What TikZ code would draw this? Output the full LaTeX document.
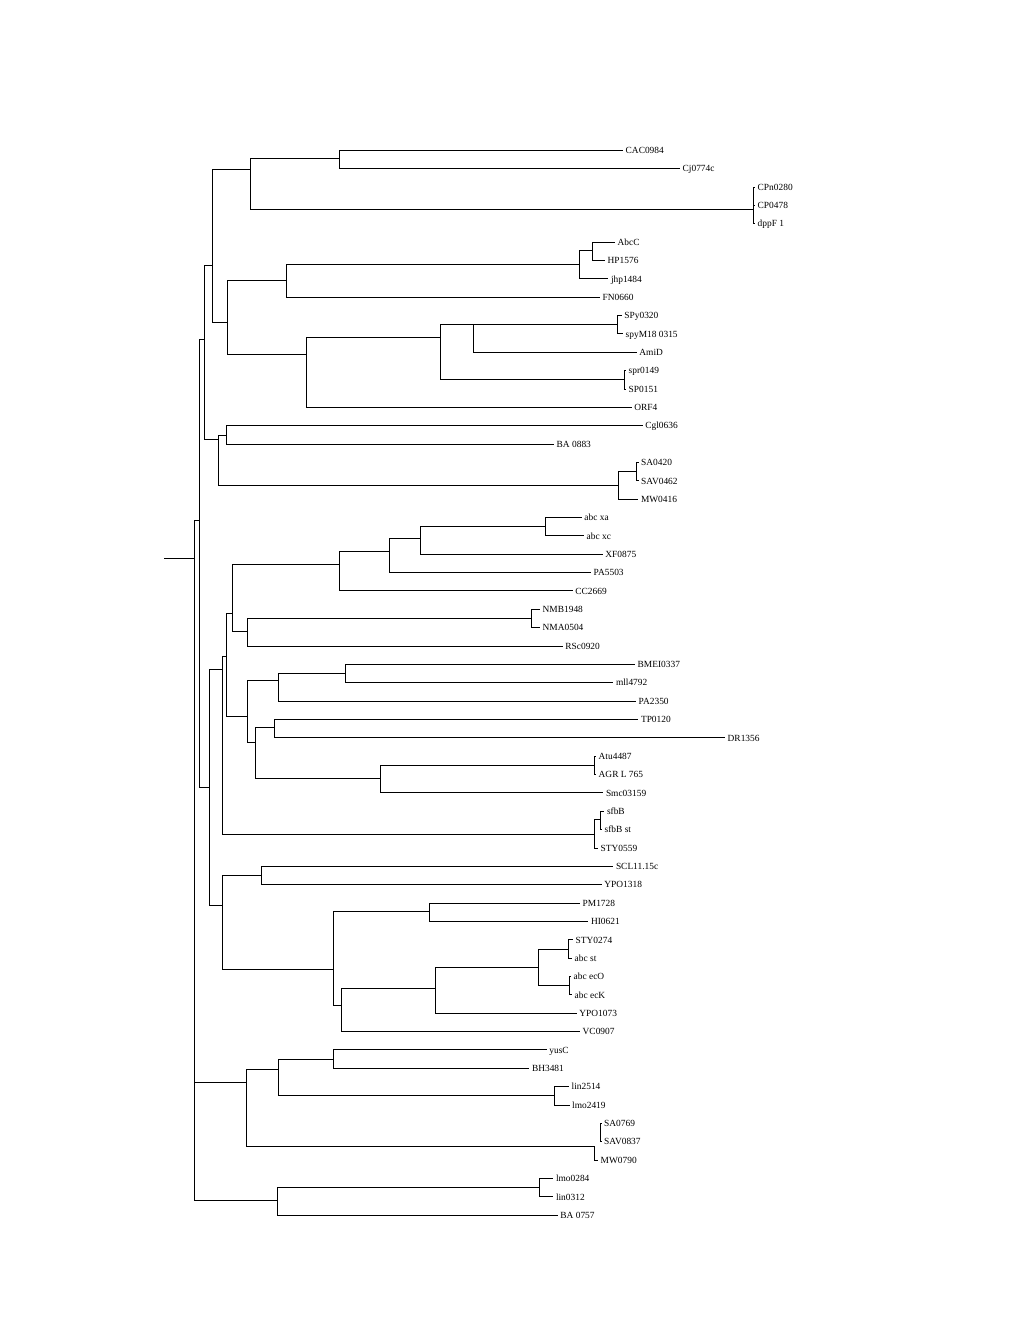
\documentclass[tikz,border=0pt]{standalone}
\usepackage{fontspec}
\setmainfont{Liberation Serif}
\begin{document}
\begin{tikzpicture}[x=1pt,y=-1pt,
  br/.style={draw=black,line width=0.9pt},
  leaf/.style={anchor=west,inner xsep=2.5pt,inner ysep=0pt,text height=6.4pt,text depth=0pt,
    font=\fontsize{9.4}{10}\selectfont}]
\useasboundingbox[fill=white] (0,0) rectangle (1020,1320);
% internal nodes
\coordinate (rs) at (164,558.7);
\coordinate (root) at (194.3,558.7);
\coordinate (A) at (199.5,520);
\coordinate (B) at (204.3,339);
\coordinate (C) at (212.3,265.3);
\coordinate (E) at (250.3,169.3);
\coordinate (F) at (339.3,158.3);
\coordinate (Pcpn) at (753.3,209.7);
\coordinate (G) at (227.3,322.3);
\coordinate (H) at (286.7,280);
\coordinate (I) at (579.3,264.3);
\coordinate (J) at (592.7,250);
\coordinate (K) at (306.7,354.3);
\coordinate (L) at (440,337.3);
\coordinate (M) at (473.3,324.3);
\coordinate (SPyc) at (617.7,324.3);
\coordinate (N) at (624,379);
\coordinate (D) at (218.3,439.3);
\coordinate (O) at (226.7,435);
\coordinate (P) at (618.3,485.3);
\coordinate (Q) at (636.7,471.7);
\coordinate (R) at (209.5,787.3);
\coordinate (R1) at (222.3,669.3);
\coordinate (R2) at (226.3,656.7);
\coordinate (R3) at (232.3,613.3);
\coordinate (R5) at (339.3,564.3);
\coordinate (R7) at (389.3,551);
\coordinate (R8) at (420.3,538.3);
\coordinate (R9) at (545,526.7);
\coordinate (R6) at (247.7,631);
\coordinate (NMBc) at (531,618.3);
\coordinate (R4) at (247.7,716.7);
\coordinate (R10) at (278.3,680.3);
\coordinate (R12) at (345.3,673.3);
\coordinate (R11) at (255.7,742.7);
\coordinate (R13) at (274.3,727.7);
\coordinate (R14) at (380.3,778.7);
\coordinate (Atuc) at (594.3,765);
\coordinate (sfb) at (594.7,834.3);
\coordinate (sfbin) at (600.7,819.3);
\coordinate (S) at (222.3,905.7);
\coordinate (T) at (261.7,875.7);
\coordinate (U) at (333.3,969.3);
\coordinate (V) at (429.3,911.3);
\coordinate (W) at (341.5,1005.3);
\coordinate (X) at (435.3,988.5);
\coordinate (Y) at (538.3,967);
\coordinate (Z1) at (568,949);
\coordinate (Z2) at (569.3,985.7);
\coordinate (AA) at (246,1082.3);
\coordinate (AB) at (278.3,1069.3);
\coordinate (AC) at (333.3,1059.3);
\coordinate (linc) at (554,1095.3);
\coordinate (SAc) at (594.3,1146);
\coordinate (SAin) at (600,1132.7);
\coordinate (AD) at (277.3,1200.7);
\coordinate (lmoc) at (539.3,1187.3);
% leaves
\node[leaf] (cac) at (623,150.3) {CAC0984};
\node[leaf] (cj) at (680,168.7) {Cj0774c};
\node[leaf] (cpn) at (755,187.0) {CPn0280};
\node[leaf] (cp) at (755,205.4) {CP0478};
\node[leaf] (dpp) at (755,223.7) {dppF 1};
\node[leaf] (abcc) at (615,242.1) {AbcC};
\node[leaf] (hp) at (605,260.5) {HP1576};
\node[leaf] (jhp) at (608.3,278.8) {jhp1484};
\node[leaf] (fn) at (600,297.2) {FN0660};
\node[leaf] (spy) at (621.7,315.5) {SPy0320};
\node[leaf] (spym) at (623,333.9) {spyM18 0315};
\node[leaf] (ami) at (636.7,352.3) {AmiD};
\node[leaf] (spr) at (626,370.6) {spr0149};
\node[leaf] (sp) at (626,389.0) {SP0151};
\node[leaf] (orf) at (631.7,407.3) {ORF4};
\node[leaf] (cgl) at (642.7,425.7) {Cgl0636};
\node[leaf] (ba883) at (554,444.1) {BA 0883};
\node[leaf] (sa420) at (638.5,462.4) {SA0420};
\node[leaf] (sav462) at (638.5,480.8) {SAV0462};
\node[leaf] (mw416) at (638.3,499.1) {MW0416};
\node[leaf] (xa) at (581.7,517.5) {abc xa};
\node[leaf] (xc) at (584,535.9) {abc xc};
\node[leaf] (xf) at (602.7,554.2) {XF0875};
\node[leaf] (pa5503) at (591,572.6) {PA5503};
\node[leaf] (cc) at (572.7,590.9) {CC2669};
\node[leaf] (nmb) at (540,609.3) {NMB1948};
\node[leaf] (nma) at (540,627.7) {NMA0504};
\node[leaf] (rsc) at (562.7,646.0) {RSc0920};
\node[leaf] (bmei) at (635,664.4) {BMEI0337};
\node[leaf] (mll) at (613.3,682.7) {mll4792};
\node[leaf] (pa2350) at (636,701.1) {PA2350};
\node[leaf] (tp) at (638.3,719.5) {TP0120};
\node[leaf] (dr) at (725,737.8) {DR1356};
\node[leaf] (atu) at (596,756.2) {Atu4487};
\node[leaf] (agr) at (596,774.5) {AGR L 765};
\node[leaf] (smc) at (603.3,792.9) {Smc03159};
\node[leaf] (sfbb) at (604.3,811.3) {sfbB};
\node[leaf] (sfbbst) at (602,829.6) {sfbB st};
\node[leaf] (sty559) at (598,848.0) {STY0559};
\node[leaf] (scl) at (613.3,866.3) {SCL11.15c};
\node[leaf] (ypoa) at (601.7,884.7) {YPO1318};
\node[leaf] (pm) at (580,903.1) {PM1728};
\node[leaf] (hi) at (588.3,921.4) {HI0621};
\node[leaf] (sty274) at (573,939.8) {STY0274};
\node[leaf] (abcst) at (572,958.1) {abc st};
\node[leaf] (ecO) at (571,976.5) {abc ecO};
\node[leaf] (ecK) at (572,994.9) {abc ecK};
\node[leaf] (ypob) at (576.7,1013.2) {YPO1073};
\node[leaf] (vc) at (580,1031.6) {VC0907};
\node[leaf] (yus) at (546.7,1049.9) {yusC};
\node[leaf] (bh) at (529.3,1068.3) {BH3481};
\node[leaf] (lina) at (569,1086.7) {lin2514};
\node[leaf] (lmoa) at (569.5,1105.0) {lmo2419};
\node[leaf] (sa769) at (601.5,1123.4) {SA0769};
\node[leaf] (sav837) at (601.5,1141.7) {SAV0837};
\node[leaf] (mw790) at (598,1160.1) {MW0790};
\node[leaf] (lmob) at (553.3,1178.5) {lmo0284};
\node[leaf] (linb) at (553.3,1196.8) {lin0312};
\node[leaf] (ba757) at (557.7,1215.2) {BA 0757};
% branches
\draw[br] (rs) -- (root);
\foreach \p/\c in {root/A,root/AA,root/AD,A/B,A/R,B/C,B/D,C/E,C/G,E/F,E/Pcpn,G/H,G/K,H/I,I/J,
  K/L,L/M,L/N,M/SPyc,D/O,D/P,P/Q,R/R1,R/S,R1/R2,R1/sfb,R2/R3,R2/R4,R3/R5,R3/R6,R5/R7,R7/R8,
  R8/R9,R6/NMBc,R4/R10,R4/R11,R10/R12,R11/R13,R11/R14,R14/Atuc,sfb/sfbin,S/T,S/U,U/V,U/W,
  W/X,X/Y,Y/Z1,Y/Z2,AA/AB,AA/SAc,AB/AC,AB/linc,AD/lmoc}
  \draw[br] (\p) |- (\c);
\foreach \p/\c in {F/cac,F/cj,Pcpn/cpn,Pcpn/cp,Pcpn/dpp,J/abcc,J/hp,I/jhp,H/fn,SPyc/spy,SPyc/spym,
  M/ami,N/spr,N/sp,K/orf,O/cgl,O/ba883,Q/sa420,Q/sav462,P/mw416,R9/xa,R9/xc,R8/xf,R7/pa5503,
  R5/cc,NMBc/nmb,NMBc/nma,R6/rsc,R12/bmei,R12/mll,R10/pa2350,R13/tp,R13/dr,Atuc/atu,Atuc/agr,
  R14/smc,sfbin/sfbb,sfbin/sfbbst,sfb/sty559,T/scl,T/ypoa,V/pm,V/hi,Z1/sty274,Z1/abcst,Z2/ecO,
  Z2/ecK,X/ypob,W/vc,AC/yus,AC/bh,linc/lina,linc/lmoa,SAin/sa769,SAin/sav837,SAc/mw790,
  lmoc/lmob,lmoc/linb,AD/ba757}
  \draw[br] (\p) |- (\c.west);
\end{tikzpicture}
\end{document}
